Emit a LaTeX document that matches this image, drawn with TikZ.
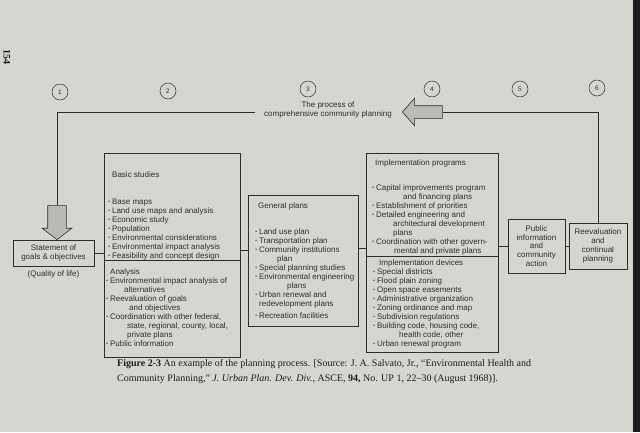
\documentclass[tikz,border=0pt]{standalone}
\usepackage{fontspec}
\setmainfont{Liberation Serif}
\setsansfont{Liberation Sans}
\usepackage{xcolor}
\usepackage{tikz}
\usetikzlibrary{shapes.arrows, positioning}
\definecolor{pageGray}{HTML}{D7D5CF}
\definecolor{inkGray}{HTML}{2E2E2E}
\definecolor{arrowGray}{HTML}{BBBAB6}
\definecolor{edgeDark}{HTML}{1C1C1C}

\newcommand{\itm}{\textbf{\textperiodcentered}\hspace{1.2pt}}
\newcommand{\cnt}[1]{\hspace*{#1pt}}

\begin{document}
\begin{tikzpicture}[
    x=1pt, y=-1pt,
    box/.style={rectangle, draw=inkGray, line width=0.6pt, inner sep=0pt, outer sep=0pt},
    txt/.style={font=\sffamily\fontsize{8}{9}\selectfont, text=inkGray, align=left, inner sep=0pt, anchor=north west},
    ctxt/.style={font=\sffamily\fontsize{8}{9}\selectfont, text=inkGray, align=center, inner sep=0pt},
    num/.style={circle, draw=inkGray, line width=0.5pt, minimum size=16pt, inner sep=0pt,
                font=\sffamily\fontsize{6.5}{7}\selectfont, text=inkGray},
    link/.style={draw=inkGray, line width=0.6pt},
    fatarrow/.style={single arrow, draw=inkGray, fill=arrowGray, line width=0.6pt, inner xsep=0pt},
]

% Page
\useasboundingbox (0,0) rectangle (640,432);
\fill[pageGray] (0,0) rectangle (640,432);
\fill[edgeDark] (633,0) rectangle (640,432);
\node[font=\bfseries\fontsize{10}{10}\selectfont, text=edgeDark, rotate=-90] (pagenum) at (7,57) {154};

% Step numbers
\node[num] (c1) at (60,92) {1};
\node[num] (c2) at (168,91) {2};
\node[num] (c3) at (308,89) {3};
\node[num] (c4) at (432,89) {4};
\node[num] (c5) at (520,89) {5};
\node[num] (c6) at (597,88) {6};

% Title and arrows
\node[ctxt, font=\sffamily\fontsize{8}{8.5}\selectfont] (title) at (328,110) {The process of\\comprehensive community planning};
\coordinate (lineL) at (255,112);
\node[fatarrow, rotate=180, anchor=tip, inner ysep=6pt, single arrow head extend=7.5pt,
      single arrow tip angle=97, minimum height=40pt] (backarr) at (402,112) {};
\node[fatarrow, rotate=-90, anchor=tip, inner ysep=9pt, single arrow head extend=5.5pt,
      single arrow tip angle=105, minimum height=34pt] (downarr) at (57,240) {};

% Goals
\node[box, minimum width=81pt, minimum height=26pt] (stmt) at (53.5,253) {};
\node[ctxt] (stmttxt) at (stmt) {Statement of\\goals \& objectives};
\node[ctxt, below=4pt of stmt] (quality) {(Quality of life)};

% Basic studies and analysis
\node[box, minimum width=136pt, minimum height=107pt] (basic) at (172,206.5) {};
\node[box, minimum width=136pt, minimum height=97pt, below=0pt of basic] (analysis) {};
\node[txt] (basictxt) at ([xshift=4pt,yshift=-18.5pt]basic.north west) {%
\cnt{4}Basic studies\\[18pt]
\itm Base maps\\
\itm Land use maps and analysis\\
\itm Economic study\\
\itm Population\\
\itm Environmental considerations\\
\itm Environmental impact analysis\\
\itm Feasibility and concept design};
\node[txt] (analysistxt) at ([xshift=2pt,yshift=-8.5pt]analysis.north west) {%
\cnt{4}Analysis\\
\itm Environmental impact analysis of\\
\cnt{18}alternatives\\
\itm Reevaluation of goals\\
\cnt{23}and objectives\\
\itm Coordination with other federal,\\
\cnt{21}state, regional, county, local,\\
\cnt{21}private plans\\
\itm Public information};

% General plans
\node[box, minimum width=110pt, minimum height=131pt] (genplan) at (303,260.5) {};
\node[txt] (genplantxt) at ([xshift=7pt,yshift=-7.5pt]genplan.north west) {%
\cnt{3}General plans\\[17pt]
\itm Land use plan\\
\itm Transportation plan\\
\itm Community institutions\\
\cnt{22}plan\\
\itm Special planning studies\\
\itm Environmental engineering\\
\cnt{32}plans\\
\itm Urban renewal and\\
\cnt{4}redevelopment plans\\[3pt]
\itm Recreation facilities};

% Implementation
\node[box, minimum width=132pt, minimum height=103pt] (progs) at (432,204.5) {};
\node[box, minimum width=132pt, minimum height=96pt, below=0pt of progs] (devices) {};
\node[txt] (progstxt) at ([xshift=6pt,yshift=-6.5pt]progs.north west) {%
\cnt{3}Implementation programs\\[16pt]
\itm Capital improvements program\\
\cnt{31}and financing plans\\
\itm Establishment of priorities\\
\itm Detailed engineering and\\
\cnt{21}architectural development\\
\cnt{21}plans\\
\itm Coordination with other govern-\\
\cnt{22}mental and private plans};
\node[txt] (devicestxt) at ([xshift=7pt,yshift=-3.5pt]devices.north west) {%
\cnt{6}Implementation devices\\
\itm Special districts\\
\itm Flood plain zoning\\
\itm Open space easements\\
\itm Administrative organization\\
\itm Zoning ordinance and map\\
\itm Subdivision regulations\\
\itm Building code, housing code,\\
\cnt{26}health code, other\\
\itm Urban renewal program};

% Public information and reevaluation
\node[box, minimum width=57pt, minimum height=54pt, font=\sffamily\fontsize{8}{8.8}\selectfont,
      text=inkGray, align=center] (public) at (536.5,246) {Public\\information\\and\\community\\action};
\node[box, minimum width=58pt, minimum height=46pt, font=\sffamily\fontsize{8}{8.8}\selectfont,
      text=inkGray, align=center, right=4pt of public] (reev) {Reevaluation\\and\\continual\\planning};

% Connectors
\coordinate (gpIn) at ([yshift=10.5pt]genplan.west);
\coordinate (gpOut) at ([yshift=12.5pt]genplan.east);
\draw[link] (downarr.tail) |- (lineL);
\draw[link] (reev.north) |- (backarr.tail);
\draw[link] (stmt.east) -- (stmt.east -| basic.west);
\draw[link] (gpIn -| basic.east) -- (gpIn);
\draw[link] (gpOut) -- (gpOut -| progs.west);
\draw[link] (public.west -| progs.east) -- (public.west);
\draw[link] (public.east) -- (reev.west);

% Caption
\node[anchor=north west, inner sep=0pt, align=left, text=edgeDark, font=\fontsize{10}{15}\selectfont] (caption) at (117,359) {%
\textbf{Figure 2-3} An example of the planning process. [Source: J. A. Salvato, Jr., ``Environmental Health and\\
Community Planning,'' \textit{J. Urban Plan. Dev. Div.}, ASCE, \textbf{94,} No. UP 1, 22--30 (August 1968)].};

\end{tikzpicture}
\end{document}
